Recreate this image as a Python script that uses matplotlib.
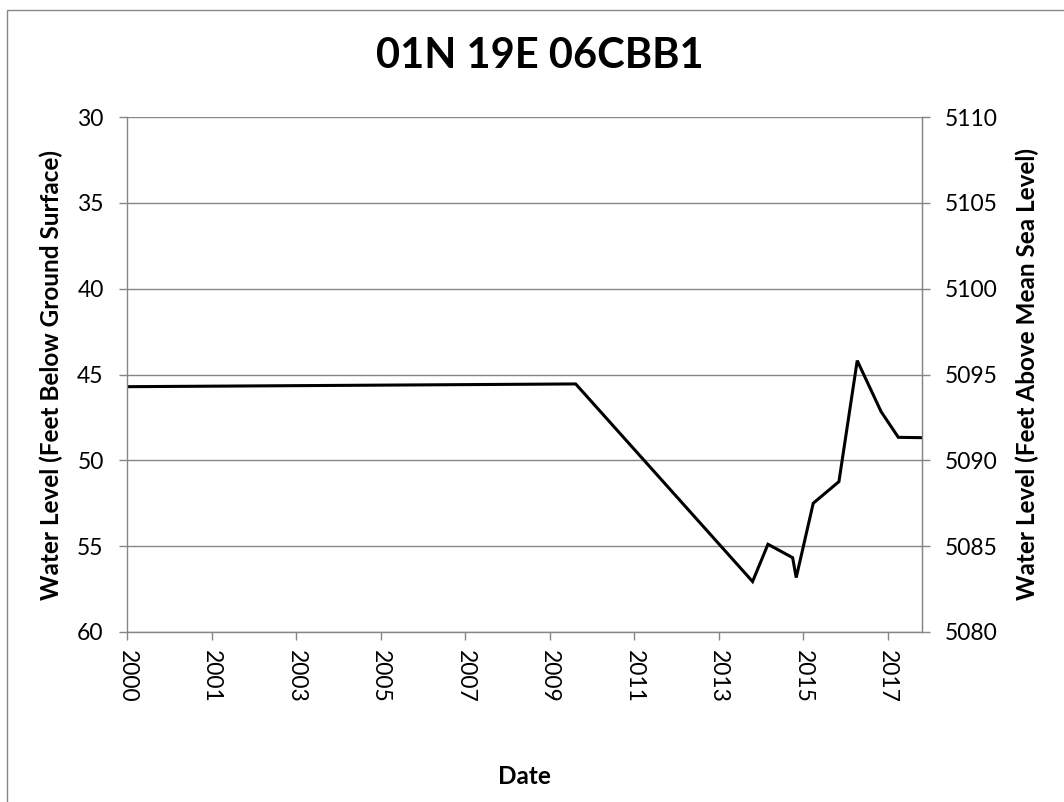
import datetime as dt

import matplotlib
matplotlib.use('Agg')
import matplotlib.dates as mdates
import matplotlib.pyplot as plt
from matplotlib.patches import Rectangle

# measurement dates and depth to water (feet below ground surface)
dates = ['2000-01-01', '2010-08-12', '2014-10-18', '2015-02-28', '2015-09-29',
         '2015-10-30', '2016-03-25', '2016-11-02', '2017-04-09', '2017-11-01',
         '2018-03-30', '2018-10-18']
depth = [45.71, 45.55, 57.06, 54.89, 55.67, 56.83, 52.50, 51.24, 44.19, 47.16,
         48.66, 48.68]

title = '01N 19E 06CBB1'
left_ticks = [30, 35, 40, 45, 50, 55, 60]
right_ticks = [5110, 5105, 5100, 5095, 5090, 5085, 5080]
tick_step_days = 730
n_xticks = 10

plt.rcParams['font.family'] = ['Lato', 'DejaVu Sans']
GRID = '#868686'
W, H = 1064, 802
TICK_FS = 16.5
LABEL_FS = 17.5

x = [dt.datetime.strptime(d, '%Y-%m-%d') for d in dates]
start = x[0]
xticks = [start + dt.timedelta(days=tick_step_days * k) for k in range(n_xticks)]

fig = plt.figure(figsize=(W / 100, H / 100), dpi=100)
ax = fig.add_axes([127 / W, 1 - 632 / H, (921.7 - 127) / W, (632 - 117) / H])

ax.plot(x, depth, color='black', lw=2.2, solid_joinstyle='miter')
ax.set_xlim(x[0], x[-1])
ax.set_ylim(60, 30)
ax.set_yticks(left_ticks)
ax.grid(axis='y', color=GRID, lw=1.0)
ax.set_axisbelow(True)

ax.set_xticks(xticks)
ax.xaxis.set_major_formatter(mdates.DateFormatter('%Y'))
for lab in ax.get_xticklabels():
    lab.set_rotation(-90)
    lab.set_ha('center')
    lab.set_va('top')

for s in ax.spines.values():
    s.set_color(GRID)
    s.set_linewidth(1.0)
ax.spines['top'].set_visible(False)

ax.tick_params(axis='y', length=8 * 0.72, width=1.0, color=GRID, pad=11,
               labelsize=TICK_FS, labelcolor='black')
ax.tick_params(axis='x', length=8 * 0.72, width=1.0, color=GRID, pad=7,
               labelsize=TICK_FS, labelcolor='black')

ax2 = ax.twinx()
ax2.set_ylim(5080, 5110)
ax2.set_yticks(right_ticks)
for s in ax2.spines.values():
    s.set_visible(False)
ax2.spines['right'].set_visible(True)
ax2.spines['right'].set_color(GRID)
ax2.tick_params(axis='y', length=8 * 0.72, width=1.0, color=GRID, pad=11,
                labelsize=TICK_FS, labelcolor='black')

ymid = 1 - 374.5 / H
ax.set_ylabel('Water Level (Feet Below Ground Surface)', fontsize=LABEL_FS,
              fontweight='bold')
ax.yaxis.set_label_coords(51 / W, ymid, transform=fig.transFigure)
ax2.set_ylabel('Water Level (Feet Above Mean Sea Level)', fontsize=LABEL_FS,
               fontweight='bold', rotation=90)
ax2.yaxis.set_label_coords(1027 / W, ymid, transform=fig.transFigure)
ax2.yaxis.label.set_va('center')
ax.yaxis.label.set_va('center')

fig.text(524 / W, 1 - 776 / H, 'Date', fontsize=LABEL_FS, fontweight='bold',
         ha='center', va='center')
fig.text(540 / W, 1 - 56 / H, title, fontsize=30, fontweight='bold',
         ha='center', va='center')

fig.patches.append(Rectangle((7 / W, -0.1), 2, 1 - 10 / H + 0.1,
                             transform=fig.transFigure, fill=False,
                             ec=GRID, lw=1.0))

fig.savefig('out.png', dpi=100)
